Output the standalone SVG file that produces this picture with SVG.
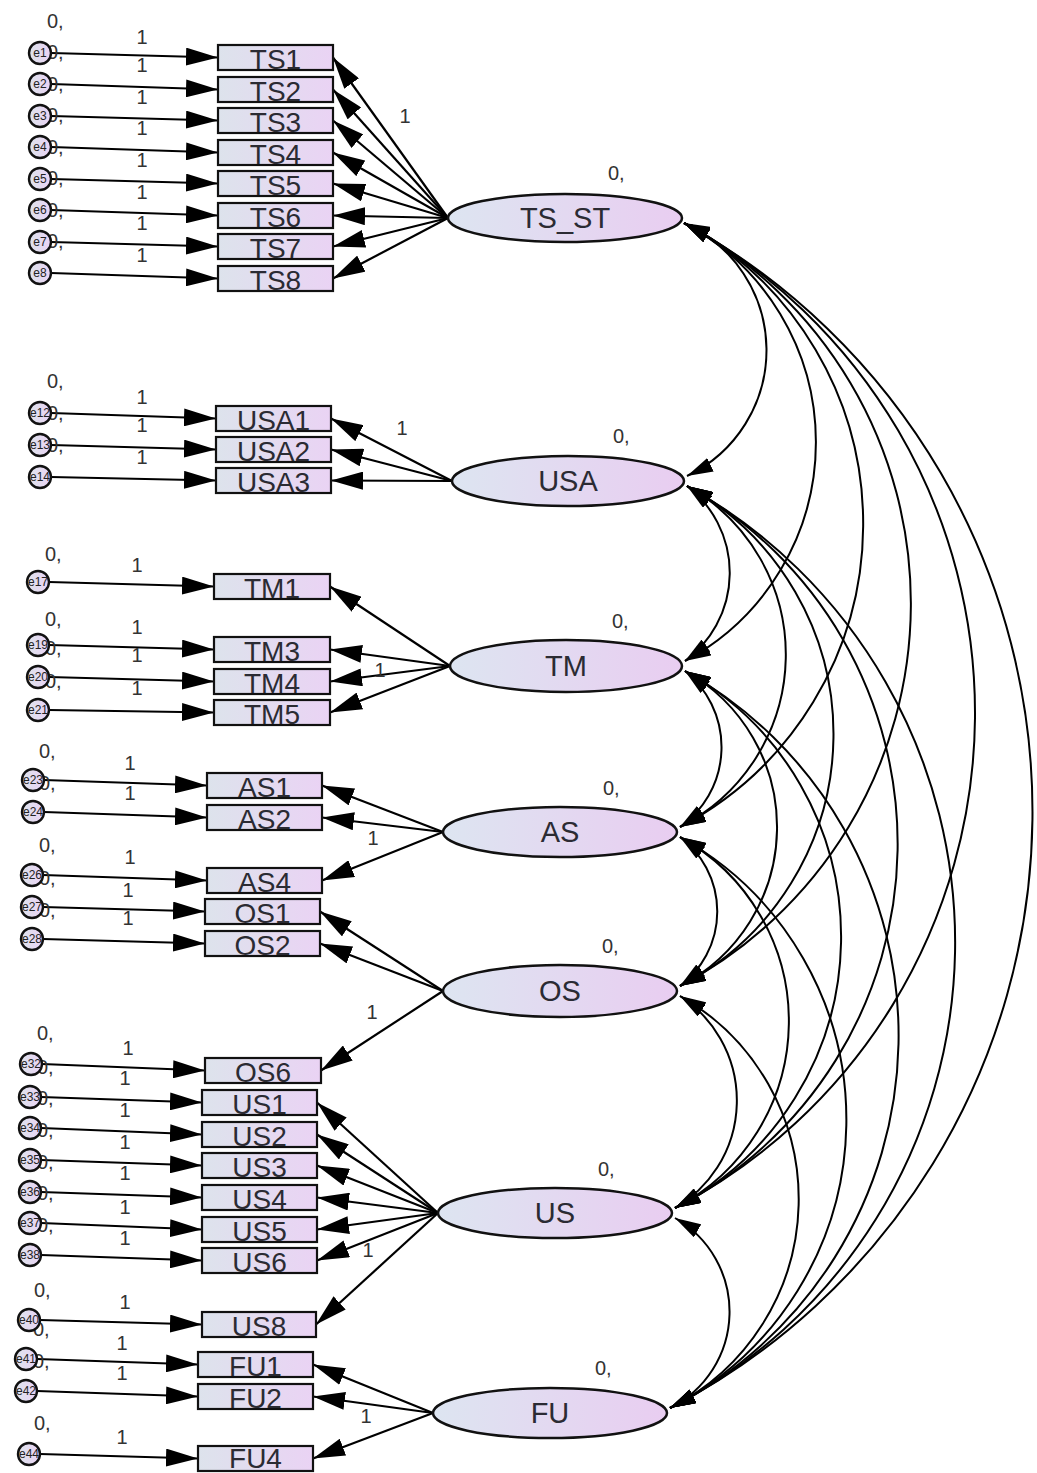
<svg xmlns="http://www.w3.org/2000/svg" width="1037" height="1473" viewBox="0 0 1037 1473">
<defs>
<linearGradient id="g" x1="0" y1="0" x2="1" y2="0"><stop offset="0" stop-color="#dde3ec"/><stop offset="1" stop-color="#ead3f4"/></linearGradient>
<linearGradient id="g2" x1="0" y1="0" x2="1" y2="0"><stop offset="0" stop-color="#dde5f1"/><stop offset="1" stop-color="#e9cdf1"/></linearGradient>
<marker id="ah" viewBox="0 0 32 18" refX="32" refY="9" markerWidth="32" markerHeight="18" markerUnits="userSpaceOnUse" orient="auto"><path d="M0,0 L32,9 L0,18 Z" fill="#000"/></marker>
<marker id="ch" viewBox="0 0 26 15" refX="26" refY="7.5" markerWidth="26" markerHeight="15" markerUnits="userSpaceOnUse" orient="auto-start-reverse"><path d="M0,0 L26,7.5 L0,15 Z" fill="#000"/></marker>
<style>
text{font-family:"Liberation Sans",Arial,sans-serif;fill:#2b2b33}
.r{fill:url(#g);stroke:#111;stroke-width:2.2}
.el{fill:url(#g2);stroke:#111;stroke-width:2.5}
.c{fill:url(#g);stroke:#111;stroke-width:2.4}
.lt{font-size:28px;text-anchor:middle}
.lat{font-size:29px;text-anchor:middle}
.sm{font-size:20px;fill:#333}
.one{font-size:20px;fill:#333;text-anchor:middle}
.et{font-size:12px;text-anchor:middle;fill:#222}
.ln{stroke:#000;stroke-width:2.2;fill:none;marker-end:url(#ah)}
.cv{stroke:#000;stroke-width:2;fill:none;marker-start:url(#ch);marker-end:url(#ch)}
</style>
</defs>

<g id="connectors">
<path class="ln" d="M51,53 L218,57.5"/>
<path class="ln" d="M51,84 L218,89.5"/>
<path class="ln" d="M51,116 L218,120.5"/>
<path class="ln" d="M51,147 L218,152.5"/>
<path class="ln" d="M51,179 L218,183.5"/>
<path class="ln" d="M51,210 L218,215.5"/>
<path class="ln" d="M51,242 L218,246.5"/>
<path class="ln" d="M51,273 L218,278.5"/>
<path class="ln" d="M51,413 L216,418.5"/>
<path class="ln" d="M51,445 L216,449.5"/>
<path class="ln" d="M51,477 L216,480.5"/>
<path class="ln" d="M49,582 L214,586.5"/>
<path class="ln" d="M49,645 L214,649.5"/>
<path class="ln" d="M49,677 L214,681.5"/>
<path class="ln" d="M49,710 L214,712.5"/>
<path class="ln" d="M44,780 L207,785.5"/>
<path class="ln" d="M44,812 L207,817.5"/>
<path class="ln" d="M43,875 L207,880.5"/>
<path class="ln" d="M43,907 L205,911.5"/>
<path class="ln" d="M43,939 L205,943.5"/>
<path class="ln" d="M42,1064 L205,1070.5"/>
<path class="ln" d="M41,1097 L202,1102.5"/>
<path class="ln" d="M41,1128 L202,1134.5"/>
<path class="ln" d="M41,1160 L202,1165.5"/>
<path class="ln" d="M41,1192 L202,1197.5"/>
<path class="ln" d="M41,1223 L202,1229.5"/>
<path class="ln" d="M41,1255 L202,1260.5"/>
<path class="ln" d="M40,1320 L202,1324.5"/>
<path class="ln" d="M37,1359 L198,1364.5"/>
<path class="ln" d="M37,1391 L198,1396.5"/>
<path class="ln" d="M40,1454 L198,1458.5"/>
<path class="ln" d="M448,218 L333,57.5"/>
<path class="ln" d="M448,218 L333,89.5"/>
<path class="ln" d="M448,218 L333,120.5"/>
<path class="ln" d="M448,218 L333,152.5"/>
<path class="ln" d="M448,218 L333,183.5"/>
<path class="ln" d="M448,218 L333,215.5"/>
<path class="ln" d="M448,218 L333,246.5"/>
<path class="ln" d="M448,218 L333,278.5"/>
<path class="ln" d="M452,481 L331,418.5"/>
<path class="ln" d="M452,481 L331,449.5"/>
<path class="ln" d="M452,481 L331,480.5"/>
<path class="ln" d="M450,666 L330,586.5"/>
<path class="ln" d="M450,666 L330,649.5"/>
<path class="ln" d="M450,666 L330,681.5"/>
<path class="ln" d="M450,666 L330,712.5"/>
<path class="ln" d="M443,832 L322,785.5"/>
<path class="ln" d="M443,832 L322,817.5"/>
<path class="ln" d="M443,832 L322,880.5"/>
<path class="ln" d="M443,991 L320,911.5"/>
<path class="ln" d="M443,991 L320,943.5"/>
<path class="ln" d="M443,991 L321,1070.5"/>
<path class="ln" d="M438,1213 L317,1102.5"/>
<path class="ln" d="M438,1213 L317,1134.5"/>
<path class="ln" d="M438,1213 L317,1165.5"/>
<path class="ln" d="M438,1213 L317,1197.5"/>
<path class="ln" d="M438,1213 L317,1229.5"/>
<path class="ln" d="M438,1213 L317,1260.5"/>
<path class="ln" d="M438,1213 L316,1324.5"/>
<path class="ln" d="M433,1413 L313,1364.5"/>
<path class="ln" d="M433,1413 L313,1396.5"/>
<path class="ln" d="M433,1413 L313,1458.5"/>
<path class="cv" d="M684,223 A139.3,139.3 0 0 1 687,476"/>
<path class="cv" d="M684,223 A248.2,248.2 0 0 1 685,661"/>
<path class="cv" d="M684,223 A342.3,342.3 0 0 1 680,827"/>
<path class="cv" d="M684,223 A432.4,432.4 0 0 1 680,986"/>
<path class="cv" d="M684,223 A558.2,558.2 0 0 1 675,1208"/>
<path class="cv" d="M684,223 A671.6,671.6 0 0 1 670,1408"/>
<path class="cv" d="M687,486 A109.4,109.4 0 0 1 685,661"/>
<path class="cv" d="M687,486 A193.3,193.3 0 0 1 680,827"/>
<path class="cv" d="M687,486 A283.4,283.4 0 0 1 680,986"/>
<path class="cv" d="M687,486 A409.2,409.2 0 0 1 675,1208"/>
<path class="cv" d="M687,486 A522.6,522.6 0 0 1 670,1408"/>
<path class="cv" d="M685,671 A97.6,97.6 0 0 1 680,827"/>
<path class="cv" d="M685,671 A178.5,178.5 0 0 1 680,986"/>
<path class="cv" d="M685,671 A304.4,304.4 0 0 1 675,1208"/>
<path class="cv" d="M685,671 A417.8,417.8 0 0 1 670,1408"/>
<path class="cv" d="M680,837 A93.1,93.1 0 0 1 680,986"/>
<path class="cv" d="M680,837 A210.2,210.2 0 0 1 675,1208"/>
<path class="cv" d="M680,837 A323.6,323.6 0 0 1 670,1408"/>
<path class="cv" d="M680,996 A124.4,124.4 0 0 1 675,1208"/>
<path class="cv" d="M680,996 A233.5,233.5 0 0 1 670,1408"/>
<path class="cv" d="M675,1218 A107.7,107.7 0 0 1 670,1408"/>
</g>

<g id="path-labels">
<text class="one" x="142" y="44">1</text>
<text class="one" x="142" y="72">1</text>
<text class="one" x="142" y="104">1</text>
<text class="one" x="142" y="135">1</text>
<text class="one" x="142" y="167">1</text>
<text class="one" x="142" y="199">1</text>
<text class="one" x="142" y="230">1</text>
<text class="one" x="142" y="262">1</text>
<text class="one" x="142" y="404">1</text>
<text class="one" x="142" y="432">1</text>
<text class="one" x="142" y="464">1</text>
<text class="one" x="137" y="572">1</text>
<text class="one" x="137" y="634">1</text>
<text class="one" x="137" y="662">1</text>
<text class="one" x="137" y="695">1</text>
<text class="one" x="130" y="770">1</text>
<text class="one" x="130" y="800">1</text>
<text class="one" x="130" y="864">1</text>
<text class="one" x="128" y="897">1</text>
<text class="one" x="128" y="925">1</text>
<text class="one" x="128" y="1055">1</text>
<text class="one" x="125" y="1085">1</text>
<text class="one" x="125" y="1117">1</text>
<text class="one" x="125" y="1149">1</text>
<text class="one" x="125" y="1180">1</text>
<text class="one" x="125" y="1214">1</text>
<text class="one" x="125" y="1245">1</text>
<text class="one" x="125" y="1309">1</text>
<text class="one" x="122" y="1350">1</text>
<text class="one" x="122" y="1380">1</text>
<text class="one" x="122" y="1444">1</text>
<text class="one" x="405" y="123">1</text>
<text class="one" x="402" y="435">1</text>
<text class="one" x="380" y="677">1</text>
<text class="one" x="373" y="845">1</text>
<text class="one" x="372" y="1019">1</text>
<text class="one" x="368" y="1257">1</text>
<text class="one" x="366" y="1423">1</text>
</g>

<g id="variance-labels">
<text class="sm" x="47" y="28">0,</text>
<text class="sm" x="47" y="59">0,</text>
<text class="sm" x="47" y="91">0,</text>
<text class="sm" x="47" y="122">0,</text>
<text class="sm" x="47" y="154">0,</text>
<text class="sm" x="47" y="185">0,</text>
<text class="sm" x="47" y="217">0,</text>
<text class="sm" x="47" y="248">0,</text>
<text class="sm" x="47" y="388">0,</text>
<text class="sm" x="47" y="420">0,</text>
<text class="sm" x="47" y="452">0,</text>
<text class="sm" x="45" y="561">0,</text>
<text class="sm" x="45" y="626">0,</text>
<text class="sm" x="45" y="655">0,</text>
<text class="sm" x="45" y="688">0,</text>
<text class="sm" x="39" y="758">0,</text>
<text class="sm" x="39" y="790">0,</text>
<text class="sm" x="39" y="852">0,</text>
<text class="sm" x="39" y="885">0,</text>
<text class="sm" x="39" y="917">0,</text>
<text class="sm" x="37" y="1040">0,</text>
<text class="sm" x="37" y="1074">0,</text>
<text class="sm" x="37" y="1105">0,</text>
<text class="sm" x="37" y="1137">0,</text>
<text class="sm" x="37" y="1169">0,</text>
<text class="sm" x="37" y="1200">0,</text>
<text class="sm" x="37" y="1232">0,</text>
<text class="sm" x="34" y="1297">0,</text>
<text class="sm" x="33" y="1336">0,</text>
<text class="sm" x="33" y="1368">0,</text>
<text class="sm" x="34" y="1430">0,</text>
<text class="sm" x="608" y="180">0,</text>
<text class="sm" x="613" y="443">0,</text>
<text class="sm" x="612" y="628">0,</text>
<text class="sm" x="603" y="795">0,</text>
<text class="sm" x="602" y="953">0,</text>
<text class="sm" x="598" y="1176">0,</text>
<text class="sm" x="595" y="1375">0,</text>
</g>

<g id="e1"><circle class="c" cx="40" cy="53" r="11"/><text class="et" x="40" y="57">e1</text></g>
<g id="e2"><circle class="c" cx="40" cy="84" r="11"/><text class="et" x="40" y="88">e2</text></g>
<g id="e3"><circle class="c" cx="40" cy="116" r="11"/><text class="et" x="40" y="120">e3</text></g>
<g id="e4"><circle class="c" cx="40" cy="147" r="11"/><text class="et" x="40" y="151">e4</text></g>
<g id="e5"><circle class="c" cx="40" cy="179" r="11"/><text class="et" x="40" y="183">e5</text></g>
<g id="e6"><circle class="c" cx="40" cy="210" r="11"/><text class="et" x="40" y="214">e6</text></g>
<g id="e7"><circle class="c" cx="40" cy="242" r="11"/><text class="et" x="40" y="246">e7</text></g>
<g id="e8"><circle class="c" cx="40" cy="273" r="11"/><text class="et" x="40" y="277">e8</text></g>
<g id="e12"><circle class="c" cx="40" cy="413" r="11"/><text class="et" x="40" y="417">e12</text></g>
<g id="e13"><circle class="c" cx="40" cy="445" r="11"/><text class="et" x="40" y="449">e13</text></g>
<g id="e14"><circle class="c" cx="40" cy="477" r="11"/><text class="et" x="40" y="481">e14</text></g>
<g id="e17"><circle class="c" cx="38" cy="582" r="11"/><text class="et" x="38" y="586">e17</text></g>
<g id="e19"><circle class="c" cx="38" cy="645" r="11"/><text class="et" x="38" y="649">e19</text></g>
<g id="e20"><circle class="c" cx="38" cy="677" r="11"/><text class="et" x="38" y="681">e20</text></g>
<g id="e21"><circle class="c" cx="38" cy="710" r="11"/><text class="et" x="38" y="714">e21</text></g>
<g id="e23"><circle class="c" cx="33" cy="780" r="11"/><text class="et" x="33" y="784">e23</text></g>
<g id="e24"><circle class="c" cx="33" cy="812" r="11"/><text class="et" x="33" y="816">e24</text></g>
<g id="e26"><circle class="c" cx="32" cy="875" r="11"/><text class="et" x="32" y="879">e26</text></g>
<g id="e27"><circle class="c" cx="32" cy="907" r="11"/><text class="et" x="32" y="911">e27</text></g>
<g id="e28"><circle class="c" cx="32" cy="939" r="11"/><text class="et" x="32" y="943">e28</text></g>
<g id="e32"><circle class="c" cx="31" cy="1064" r="11"/><text class="et" x="31" y="1068">e32</text></g>
<g id="e33"><circle class="c" cx="30" cy="1097" r="11"/><text class="et" x="30" y="1101">e33</text></g>
<g id="e34"><circle class="c" cx="30" cy="1128" r="11"/><text class="et" x="30" y="1132">e34</text></g>
<g id="e35"><circle class="c" cx="30" cy="1160" r="11"/><text class="et" x="30" y="1164">e35</text></g>
<g id="e36"><circle class="c" cx="30" cy="1192" r="11"/><text class="et" x="30" y="1196">e36</text></g>
<g id="e37"><circle class="c" cx="30" cy="1223" r="11"/><text class="et" x="30" y="1227">e37</text></g>
<g id="e38"><circle class="c" cx="30" cy="1255" r="11"/><text class="et" x="30" y="1259">e38</text></g>
<g id="e40"><circle class="c" cx="29" cy="1320" r="11"/><text class="et" x="29" y="1324">e40</text></g>
<g id="e41"><circle class="c" cx="26" cy="1359" r="11"/><text class="et" x="26" y="1363">e41</text></g>
<g id="e42"><circle class="c" cx="26" cy="1391" r="11"/><text class="et" x="26" y="1395">e42</text></g>
<g id="e44"><circle class="c" cx="29" cy="1454" r="11"/><text class="et" x="29" y="1458">e44</text></g>

<g id="TS1"><rect class="r" x="218" y="45" width="115" height="25"/><text class="lt" x="275.5" y="69">TS1</text></g>
<g id="TS2"><rect class="r" x="218" y="77" width="115" height="25"/><text class="lt" x="275.5" y="101">TS2</text></g>
<g id="TS3"><rect class="r" x="218" y="108" width="115" height="25"/><text class="lt" x="275.5" y="132">TS3</text></g>
<g id="TS4"><rect class="r" x="218" y="140" width="115" height="25"/><text class="lt" x="275.5" y="164">TS4</text></g>
<g id="TS5"><rect class="r" x="218" y="171" width="115" height="25"/><text class="lt" x="275.5" y="195">TS5</text></g>
<g id="TS6"><rect class="r" x="218" y="203" width="115" height="25"/><text class="lt" x="275.5" y="227">TS6</text></g>
<g id="TS7"><rect class="r" x="218" y="234" width="115" height="25"/><text class="lt" x="275.5" y="258">TS7</text></g>
<g id="TS8"><rect class="r" x="218" y="266" width="115" height="25"/><text class="lt" x="275.5" y="290">TS8</text></g>
<g id="USA1"><rect class="r" x="216" y="406" width="115" height="25"/><text class="lt" x="273.5" y="430">USA1</text></g>
<g id="USA2"><rect class="r" x="216" y="437" width="115" height="25"/><text class="lt" x="273.5" y="461">USA2</text></g>
<g id="USA3"><rect class="r" x="216" y="468" width="115" height="25"/><text class="lt" x="273.5" y="492">USA3</text></g>
<g id="TM1"><rect class="r" x="214" y="574" width="116" height="25"/><text class="lt" x="272" y="598">TM1</text></g>
<g id="TM3"><rect class="r" x="214" y="637" width="116" height="25"/><text class="lt" x="272" y="661">TM3</text></g>
<g id="TM4"><rect class="r" x="214" y="669" width="116" height="25"/><text class="lt" x="272" y="693">TM4</text></g>
<g id="TM5"><rect class="r" x="214" y="700" width="116" height="25"/><text class="lt" x="272" y="724">TM5</text></g>
<g id="AS1"><rect class="r" x="207" y="773" width="115" height="25"/><text class="lt" x="264.5" y="797">AS1</text></g>
<g id="AS2"><rect class="r" x="207" y="805" width="115" height="25"/><text class="lt" x="264.5" y="829">AS2</text></g>
<g id="AS4"><rect class="r" x="207" y="868" width="115" height="25"/><text class="lt" x="264.5" y="892">AS4</text></g>
<g id="OS1"><rect class="r" x="205" y="899" width="115" height="25"/><text class="lt" x="262.5" y="923">OS1</text></g>
<g id="OS2"><rect class="r" x="205" y="931" width="115" height="25"/><text class="lt" x="262.5" y="955">OS2</text></g>
<g id="OS6"><rect class="r" x="205" y="1058" width="116" height="25"/><text class="lt" x="263" y="1082">OS6</text></g>
<g id="US1"><rect class="r" x="202" y="1090" width="115" height="25"/><text class="lt" x="259.5" y="1114">US1</text></g>
<g id="US2"><rect class="r" x="202" y="1122" width="115" height="25"/><text class="lt" x="259.5" y="1146">US2</text></g>
<g id="US3"><rect class="r" x="202" y="1153" width="115" height="25"/><text class="lt" x="259.5" y="1177">US3</text></g>
<g id="US4"><rect class="r" x="202" y="1185" width="115" height="25"/><text class="lt" x="259.5" y="1209">US4</text></g>
<g id="US5"><rect class="r" x="202" y="1217" width="115" height="25"/><text class="lt" x="259.5" y="1241">US5</text></g>
<g id="US6"><rect class="r" x="202" y="1248" width="115" height="25"/><text class="lt" x="259.5" y="1272">US6</text></g>
<g id="US8"><rect class="r" x="202" y="1312" width="114" height="25"/><text class="lt" x="259" y="1336">US8</text></g>
<g id="FU1"><rect class="r" x="198" y="1352" width="115" height="25"/><text class="lt" x="255.5" y="1376">FU1</text></g>
<g id="FU2"><rect class="r" x="198" y="1384" width="115" height="25"/><text class="lt" x="255.5" y="1408">FU2</text></g>
<g id="FU4"><rect class="r" x="198" y="1446" width="115" height="25"/><text class="lt" x="255.5" y="1468">FU4</text></g>

<g id="TS_ST"><ellipse class="el" cx="565" cy="218" rx="117" ry="24"/><text class="lat" x="565" y="228">TS_ST</text></g>
<g id="USA"><ellipse class="el" cx="568" cy="481" rx="116" ry="25"/><text class="lat" x="568" y="491">USA</text></g>
<g id="TM"><ellipse class="el" cx="566" cy="666" rx="116" ry="26"/><text class="lat" x="566" y="676">TM</text></g>
<g id="AS"><ellipse class="el" cx="560" cy="832" rx="117" ry="25"/><text class="lat" x="560" y="842">AS</text></g>
<g id="OS"><ellipse class="el" cx="560" cy="991" rx="117" ry="26"/><text class="lat" x="560" y="1001">OS</text></g>
<g id="US"><ellipse class="el" cx="555" cy="1213" rx="117" ry="25"/><text class="lat" x="555" y="1223">US</text></g>
<g id="FU"><ellipse class="el" cx="550" cy="1413" rx="117" ry="25"/><text class="lat" x="550" y="1423">FU</text></g>
</svg>
